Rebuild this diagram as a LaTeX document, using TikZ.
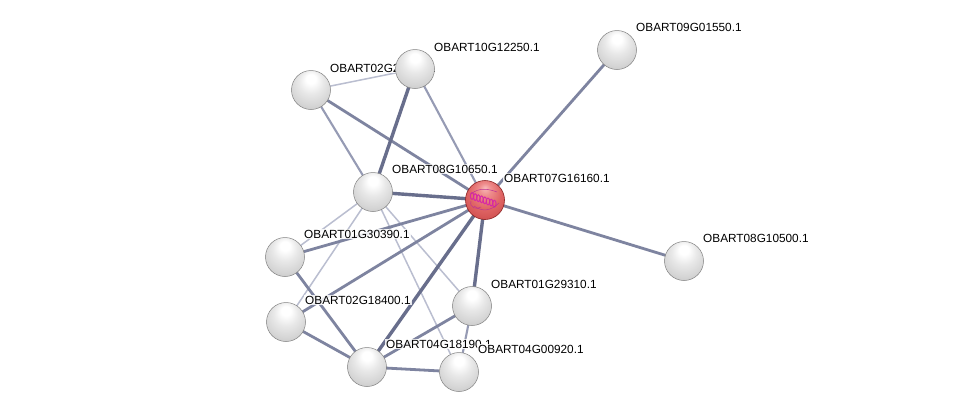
\documentclass[tikz,border=0pt]{standalone}
\usepackage{fontspec}
\setmainfont{Liberation Sans}
\definecolor{protA}{RGB}{215,40,165}
\definecolor{protB}{RGB}{190,50,150}
\definecolor{rimG}{RGB}{130,130,130}
\definecolor{rimR}{RGB}{140,35,35}
\pgfdeclareradialshading{graysphere}{\pgfpoint{0bp}{16bp}}{%
  color(0bp)=(white); color(6bp)=(white); color(16bp)=(white!91!black);
  color(28bp)=(white!83!black); color(38bp)=(white!74!black); color(45bp)=(white!62!black); color(50bp)=(white!48!black)}
\pgfdeclareradialshading{redsphere}{\pgfpoint{0bp}{16bp}}{%
  color(0bp)=(rgb,255:red,248;green,185;blue,185); color(8bp)=(rgb,255:red,238;green,140;blue,140);
  color(20bp)=(rgb,255:red,224;green,102;blue,102); color(32bp)=(rgb,255:red,208;green,80;blue,80);
  color(42bp)=(rgb,255:red,178;green,50;blue,50); color(50bp)=(rgb,255:red,125;green,22;blue,22)}
\begin{document}
\begin{tikzpicture}[x=1pt,y=-1pt,
  ethick/.style={line width=3.4pt, draw={rgb,255:red,104;green,110;blue,140}},
  emed/.style={line width=2.8pt, draw={rgb,255:red,126;green,132;blue,160}},
  elm/.style={line width=2.1pt, draw={rgb,255:red,150;green,155;blue,180}},
  elight/.style={line width=1.5pt, draw={rgb,255:red,186;green,190;blue,208}},
  ball/.style={circle, inner sep=0pt, minimum size=39pt, shading=graysphere, draw=rimG, line width=0.5pt},
  redball/.style={circle, inner sep=0pt, minimum size=39pt, shading=redsphere, draw=rimR, line width=0.6pt},
  lab/.style={anchor=west, inner sep=1pt, fill=white, fill opacity=0.85, text opacity=1,
    font=\fontsize{11.8}{13}\selectfont}
]
\useasboundingbox (0,0) rectangle (976,416);
\fill[white] (0,0) rectangle (976,416);

\coordinate (A) at (311,90);
\coordinate (B) at (415,69);
\coordinate (C) at (617,50);
\coordinate (D) at (373,192);
\coordinate (E) at (485,200);
\coordinate (F) at (684,261);
\coordinate (G) at (285,257);
\coordinate (H) at (286,322);
\coordinate (I) at (472,306);
\coordinate (J) at (367,367);
\coordinate (K) at (459,372);

% edges
\draw[elight] (A) -- (B);
\draw[elm] (A) -- (D);
\draw[emed] (A) -- (E);
\draw[ethick] (B) -- (D);
\draw[elm] (B) -- (E);
\draw[emed] (C) -- (E);
\draw[ethick] (D) -- (E);
\draw[emed] (E) -- (F);
\draw[elight] (D) -- (G);
\draw[elight] (D) -- (H);
\draw[elight] (D) -- (I);
\draw[elight] (D) -- (K);
\draw[emed] (E) -- (G);
\draw[emed] (E) -- (H);
\draw[ethick] (E) -- (J);
\draw[ethick] (E) -- (I);
\draw[emed] (G) -- (J);
\draw[emed] (H) -- (J);
\draw[emed] (J) -- (I);
\draw[emed] (J) -- (K);
\draw[elm] (I) -- (K);

% nodes and labels
\node[ball] (nA) at (A) {};
\node[lab] (lA) at ([shift={(18,-22)}]A) {OBART02G21280.1};
\node[ball] (nB) at (B) {};
\node[lab] (lB) at ([shift={(18,-22)}]B) {OBART10G12250.1};
\node[ball] (nC) at (C) {};
\node[lab] (lC) at ([shift={(18,-23)}]C) {OBART09G01550.1};
\node[ball] (nD) at (D) {};
\node[lab] (lD) at ([shift={(18,-23)}]D) {OBART08G10650.1};
\node[redball] (nE) at (E) {};
\foreach \i in {0,...,7}
  \draw[line width=1pt, protA] ([shift={(-13+3.2*\i,-4+1.1*\i)}]E) ellipse (1.7 and 3.4);
\draw[line width=0.5pt, protB] ([shift={(-14,-6)}]E) .. controls ([shift={(-6,-13)}]E) and ([shift={(4,-11)}]E) .. ([shift={(12,-8)}]E);
\draw[line width=0.5pt, protB] ([shift={(-11,6)}]E) .. controls ([shift={(-3,12)}]E) and ([shift={(6,11)}]E) .. ([shift={(14,3)}]E);
\draw[line width=0.5pt, protB] ([shift={(-14,1)}]E) .. controls ([shift={(-16,8)}]E) and ([shift={(-8,10)}]E) .. ([shift={(-4,7)}]E);
\node[lab] (lE) at ([shift={(18,-22)}]E) {OBART07G16160.1};
\node[ball] (nF) at (F) {};
\node[lab] (lF) at ([shift={(18,-23)}]F) {OBART08G10500.1};
\node[ball] (nG) at (G) {};
\node[lab] (lG) at ([shift={(18,-23)}]G) {OBART01G30390.1};
\node[ball] (nH) at (H) {};
\node[lab] (lH) at ([shift={(18,-22)}]H) {OBART02G18400.1};
\node[ball] (nI) at (I) {};
\node[lab] (lI) at ([shift={(18,-22)}]I) {OBART01G29310.1};
\node[ball] (nJ) at (J) {};
\node[lab] (lJ) at ([shift={(18,-23)}]J) {OBART04G18190.1};
\node[ball] (nK) at (K) {};
\node[lab] (lK) at ([shift={(18,-23)}]K) {OBART04G00920.1};
\end{tikzpicture}
\end{document}
